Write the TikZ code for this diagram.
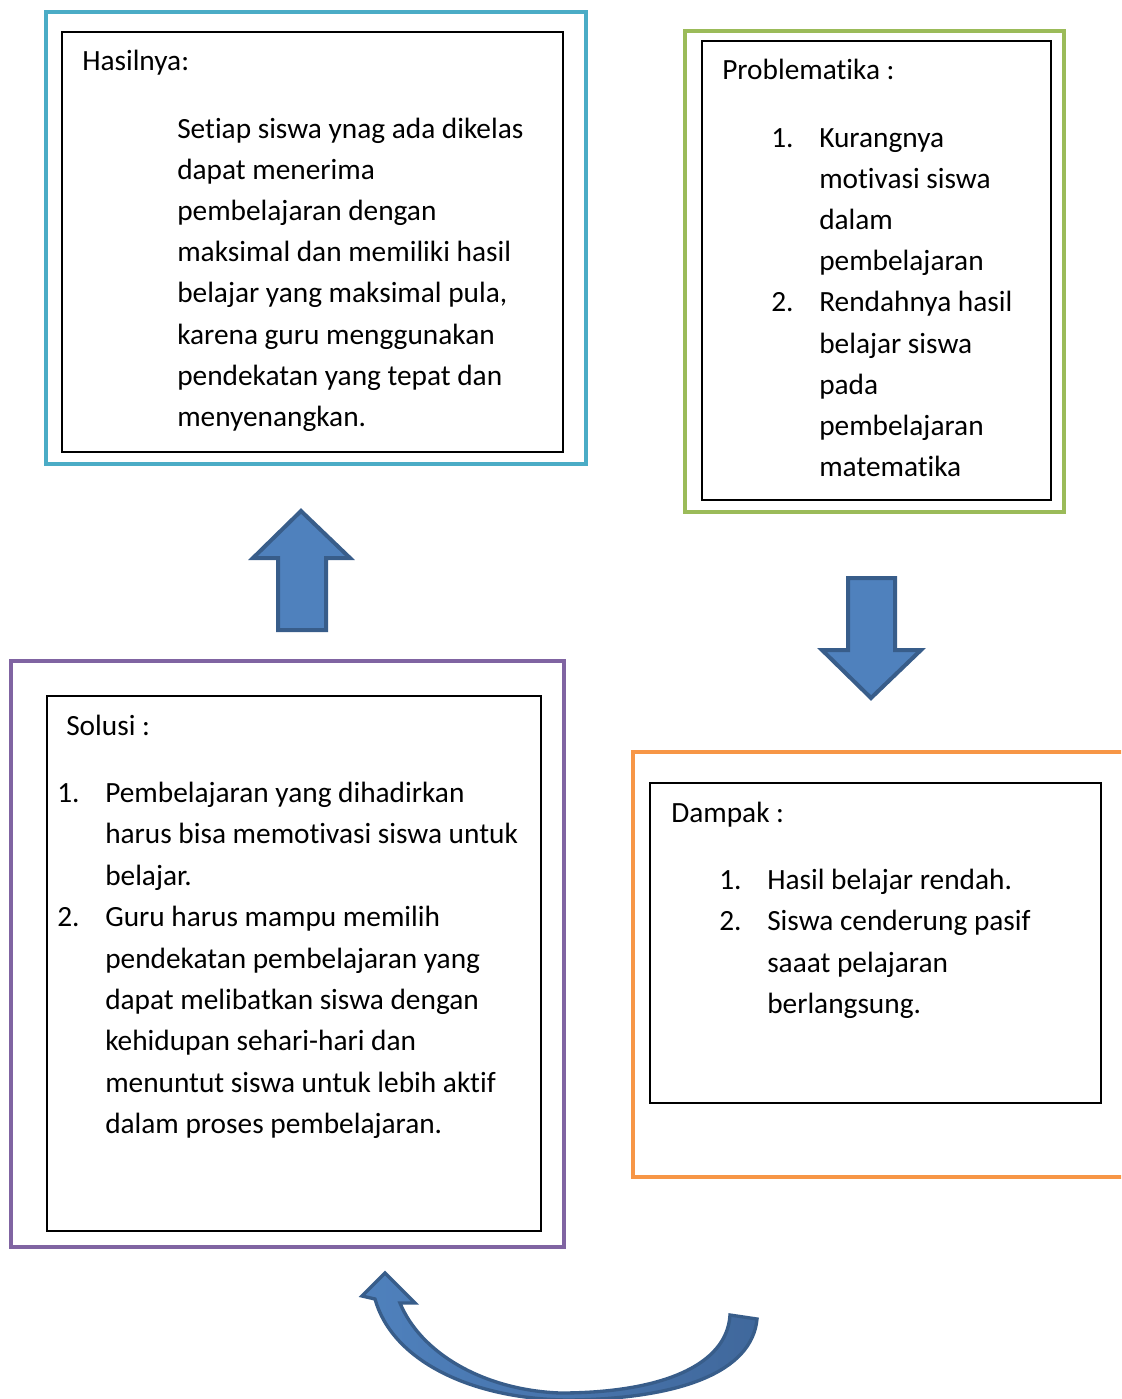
\documentclass[tikz,border=0pt]{standalone}
\usepackage{fontspec}
\setmainfont{Carlito}[RawFeature={-liga;-clig;-calt;-dlig}]
\definecolor{cyanB}{HTML}{4BACC6}
\definecolor{greenB}{HTML}{9BBB59}
\definecolor{purpleB}{HTML}{8064A2}
\definecolor{orangeB}{HTML}{F79646}
\definecolor{arrowFill}{HTML}{4F81BD}
\definecolor{arrowFillDark}{HTML}{40689C}
\definecolor{arrowLine}{HTML}{385D8A}
\begin{document}
\begin{tikzpicture}[x=0.75pt,y=-0.75pt,
  outerbox/.style={line width=3pt},
  innerbox/.style={draw=black,line width=0.9pt},
  txt/.style={inner sep=0pt,anchor=base west,font=\fontsize{22}{26}\selectfont},
  blockarrow/.style={fill=arrowFill,draw=arrowLine,line width=3pt,line join=miter}]
\clip (0,0) rectangle (1121,1399);
\fill[white] (0,0) rectangle (1121,1399);
% boxes
\draw[outerbox,draw=cyanB] (46,12) rectangle (586,464);
\draw[innerbox] (62,32) rectangle (563,452);
\draw[outerbox,draw=greenB] (685,31) rectangle (1064,512);
\draw[innerbox] (702,41) rectangle (1051,500);
\draw[outerbox,draw=purpleB] (11,661) rectangle (564,1247);
\draw[innerbox] (47,696) rectangle (541,1231);
\draw[outerbox,draw=orangeB] (633,752) rectangle (1135,1177);
\draw[innerbox] (650,783) rectangle (1101,1103);
% Hasilnya
\node[txt] (hTitle) at (82,70) {Hasilnya:};
\foreach \t [count=\i] in {Setiap siswa ynag ada dikelas, dapat menerima, pembelajaran dengan, maksimal dan memiliki hasil, {belajar yang maksimal pula,}, karena guru menggunakan, pendekatan yang tepat dan, menyenangkan.}
  \node[txt] (h\i) at (177,{138.5+41.1*(\i-1)}) {\t};
% Problematika
\node[txt] (pTitle) at (722,79.5) {Problematika :};
\node[txt] (pn1) at (771,147.5) {1.};
\node[txt] (pn2) at (771,{147.5+41.1*4}) {2.};
\foreach \t [count=\i] in {Kurangnya, motivasi siswa, dalam, pembelajaran, Rendahnya hasil, belajar siswa, pada, pembelajaran, matematika}
  \node[txt] (p\i) at (819,{147.5+41.1*(\i-1)}) {\t};
% Solusi
\node[txt] (sTitle) at (66,735.5) {Solusi :};
\node[txt] (sn1) at (57,802.5) {1.};
\node[txt] (sn2) at (57,{802.5+41.4*3}) {2.};
\foreach \t [count=\i] in {Pembelajaran yang dihadirkan, harus bisa memotivasi siswa untuk, belajar., Guru harus mampu memilih, pendekatan pembelajaran yang, dapat melibatkan siswa dengan, kehidupan sehari-hari dan, menuntut siswa untuk lebih aktif, dalam proses pembelajaran.}
  \node[txt] (s\i) at (105,{802.5+41.4*(\i-1)}) {\t};
% Dampak
\node[txt] (dTitle) at (671,822.5) {Dampak :};
\node[txt] (dn1) at (719,889.5) {1.};
\node[txt] (dn2) at (719,{889.5+41.3}) {2.};
\foreach \t [count=\i] in {Hasil belajar rendah., Siswa cenderung pasif, saaat pelajaran, berlangsung.}
  \node[txt] (d\i) at (767,{889.5+41.3*(\i-1)}) {\t};
% up arrow
\draw[blockarrow] (301,511) -- (350,558) -- (326,558) -- (326,630) -- (278,630) -- (278,558) -- (253,558) -- cycle;
% down arrow
\draw[blockarrow] (871,698) -- (921,650) -- (895,650) -- (895,578) -- (848,578) -- (848,650) -- (822,650) -- cycle;
% curved arrow
\path[draw=arrowLine,line width=2.5pt,line join=miter,left color=arrowFill,right color=arrowFillDark]
  (730,1315) -- (757,1319)
  .. controls (752,1372) and (680,1399) .. (568,1400)
  .. controls (470,1399) and (392,1360) .. (375,1299)
  -- (362,1296) -- (385,1273) -- (415,1303) -- (400,1303)
  .. controls (420,1352) and (482,1390) .. (560,1393)
  .. controls (660,1393) and (727,1366) .. (730,1315) -- cycle;
\end{tikzpicture}
\end{document}
